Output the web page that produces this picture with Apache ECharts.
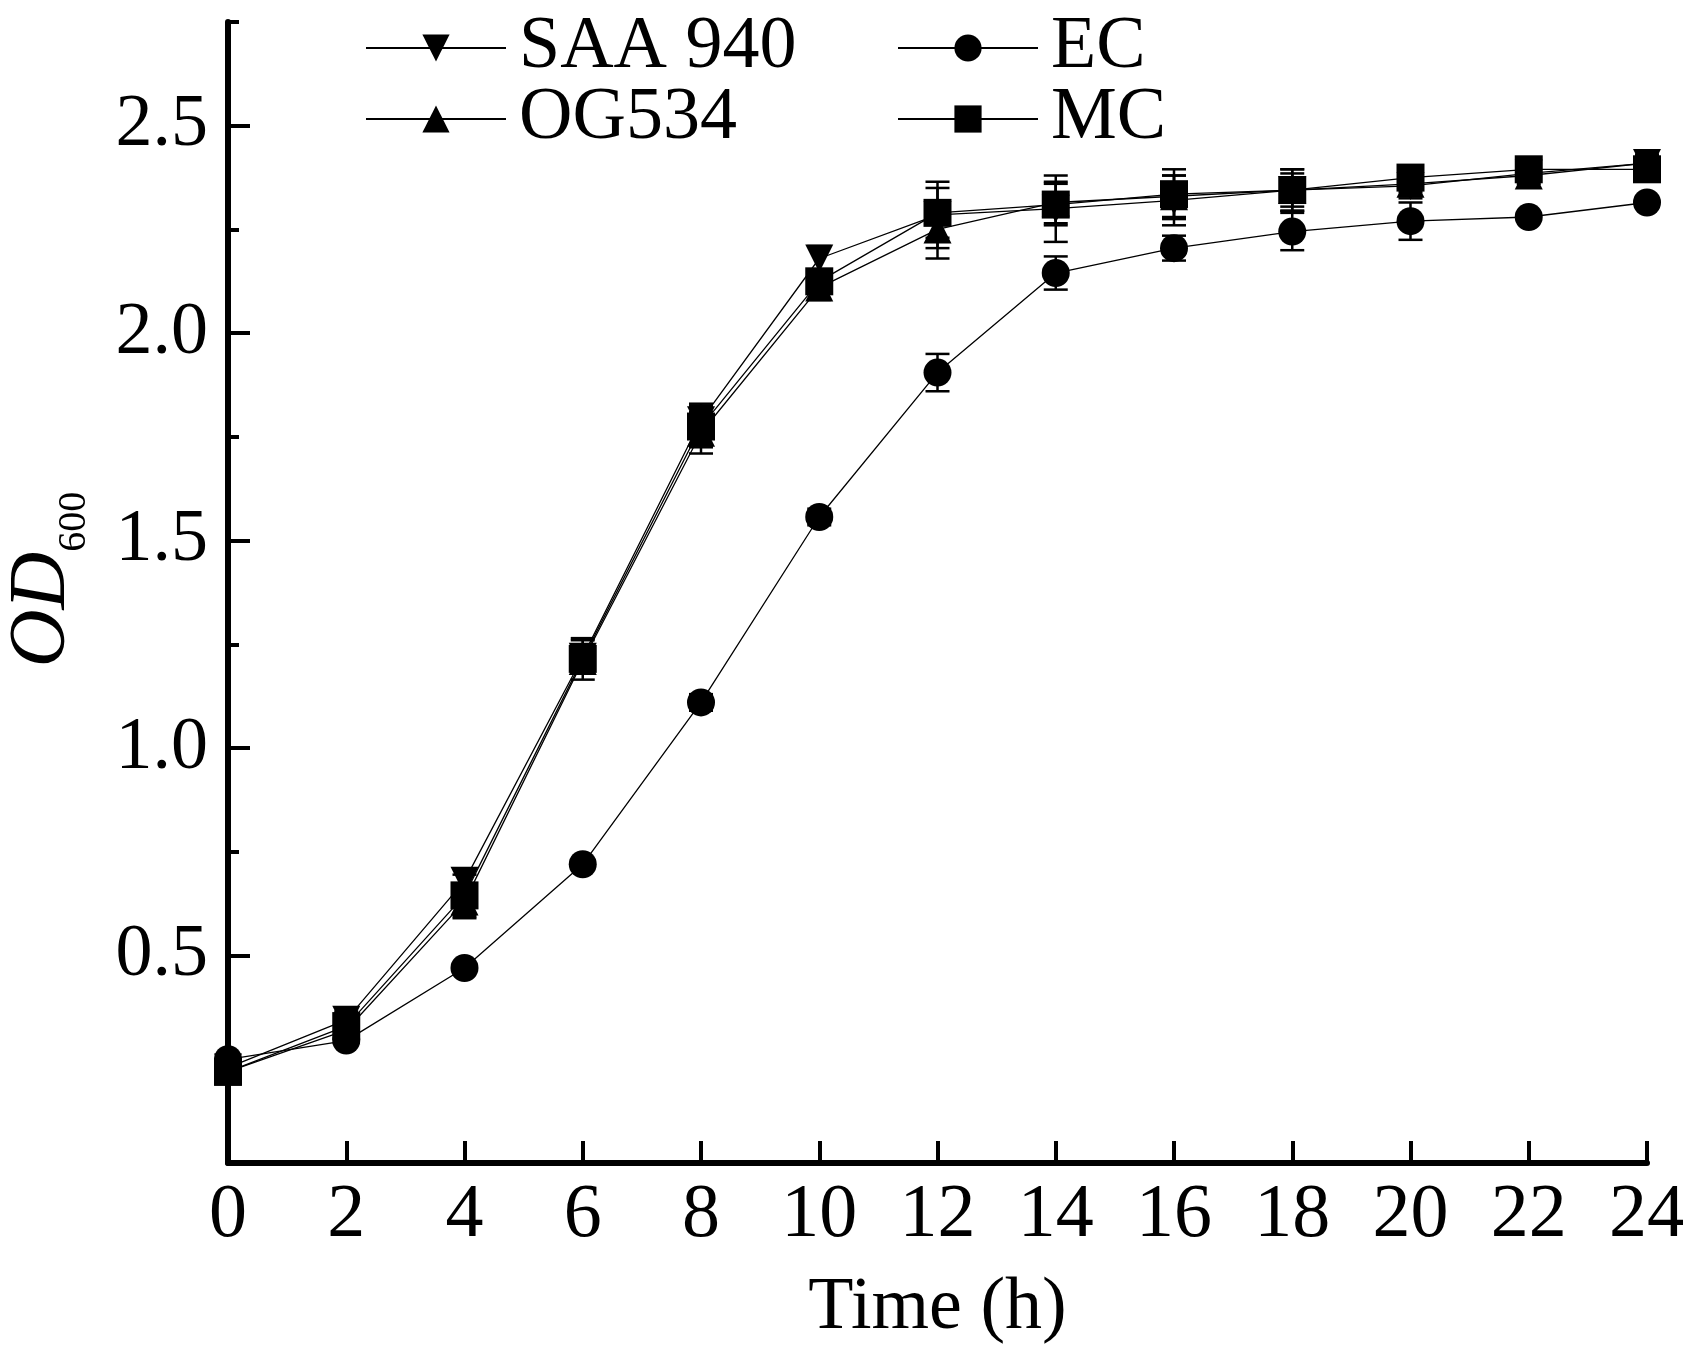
<!DOCTYPE html>
<html>
<head>
    <meta charset="utf-8">
    <title>OD600 growth curves</title>
    <script src="https://cdn.jsdelivr.net/npm/echarts@6/dist/echarts.min.js"></script>
</head>
<style>
    html, body { margin: 0; padding: 0; background: #fff; }
</style>
<body>
<div id="main" style="width: 1683px; height: 1355px;"></div>
<script>
// sampling times (h)
const hours = [0, 2, 4, 6, 8, 10, 12, 14, 16, 18, 20, 22, 24];

// OD600 means and error bars
const saa940    = [0.23, 0.345, 0.68, 1.22, 1.79, 2.18, 2.285, 2.30, 2.32, 2.345, 2.355, 2.385, 2.41];
const saa940Err = [0.02, 0.02, 0.03, 0.04, 0.04, 0.03, 0.08, 0.08, 0.06, 0.05, 0.03, 0.02, 0.02];
const og534     = [0.22, 0.32, 0.63, 1.21, 1.76, 2.11, 2.25, 2.315, 2.33, 2.345, 2.36, 2.38, 2.41];
const og534Err  = [0.02, 0.02, 0.04, 0.03, 0.05, 0.03, 0.07, 0.05, 0.05, 0.04, 0.02, 0.02, 0.02];
const ec        = [0.25, 0.295, 0.47, 0.72, 1.11, 1.557, 1.905, 2.145, 2.205, 2.245, 2.27, 2.28, 2.315];
const ecErr     = [0.01, 0.01, 0.01, 0.01, 0.02, 0.02, 0.045, 0.04, 0.03, 0.045, 0.045, 0.01, 0.01];
const mc        = [0.22, 0.33, 0.645, 1.215, 1.775, 2.125, 2.29, 2.31, 2.335, 2.345, 2.375, 2.395, 2.395];
const mcErr     = [0.02, 0.03, 0.05, 0.05, 0.05, 0.02, 0.06, 0.05, 0.06, 0.05, 0.02, 0.02, 0.02];

// labelled (long) y ticks; the short ones fall every 0.25
const yMajor = [0.5, 1.0, 1.5, 2.0, 2.5];

const FONT = 'Liberation Serif';
let myChart = echarts.init(document.getElementById('main'));

function lineSeries(name, values, symbol, rotate) {
    return {
        name: name,
        type: 'line',
        data: hours.map((h, i) => [h, values[i]]),
        symbol: symbol,
        symbolSize: 28,
        symbolRotate: rotate || 0,
        color: '#000',
        itemStyle: { color: '#000' },
        lineStyle: { color: '#000', width: 1.3 },
        z: 3
    };
}

function errSeries(values, errs) {
    return {
        type: 'custom',
        data: hours.map((h, i) => [h, values[i], errs[i]]),
        z: 2,
        renderItem: (params, api) => {
            const x = api.value(0), y = api.value(1), e = api.value(2);
            const top = api.coord([x, y + e]);
            const bot = api.coord([x, y - e]);
            const w = 12;
            const st = { stroke: '#000', lineWidth: 2.5 };
            return {
                type: 'group',
                children: [
                    { type: 'line', shape: { x1: top[0], y1: top[1], x2: bot[0], y2: bot[1] }, style: st },
                    { type: 'line', shape: { x1: top[0] - w, y1: top[1], x2: top[0] + w, y2: top[1] }, style: st },
                    { type: 'line', shape: { x1: bot[0] - w, y1: bot[1], x2: bot[0] + w, y2: bot[1] }, style: st }
                ]
            };
        }
    };
}

const legendText = { fontFamily: FONT, fontSize: 74, lineHeight: 64, color: '#000', padding: [0, 0, 0, 8] };

myChart.setOption({
    backgroundColor: '#fff',
    animation: false,
    legend: [
        {
            data: ['SAA 940', 'OG534'], orient: 'vertical', left: 360, top: 6,
            itemWidth: 140, itemHeight: 34, itemGap: -3, textStyle: legendText
        },
        {
            data: ['EC', 'MC'], orient: 'vertical', left: 892, top: 6,
            itemWidth: 140, itemHeight: 34, itemGap: -3, textStyle: legendText
        }
    ],
    grid: { left: 228, right: 36, top: 22, bottom: 192, containLabel: false, outerBoundsMode: 'none' },
    xAxis: {
        type: 'value', min: 0, max: 24, interval: 2,
        name: 'Time (h)', nameLocation: 'middle', nameGap: 109,
        nameTextStyle: { fontFamily: FONT, fontSize: 74, color: '#000' },
        axisLine: { lineStyle: { color: '#000', width: 6 } },
        axisTick: { inside: true, length: 22, lineStyle: { color: '#000', width: 4 } },
        axisLabel: { fontFamily: FONT, fontSize: 76, color: '#000', margin: 15 },
        splitLine: { show: false }
    },
    yAxis: [
        {
            type: 'value', min: 0, max: 2.75, interval: 0.25,
            name: '{od|OD}{sub|600}', nameLocation: 'middle', nameRotate: 90, nameGap: 134,
            nameTextStyle: {
                padding: [0, 0, 0, 26],
                rich: {
                    od: { fontFamily: FONT, fontStyle: 'italic', fontSize: 80, color: '#000' },
                    sub: { fontFamily: FONT, fontSize: 40, color: '#000', padding: [62, 0, 0, 0] }
                }
            },
            axisLine: { lineStyle: { color: '#000', width: 6 } },
            axisTick: { inside: true, length: 11, lineStyle: { color: '#000', width: 4 } },
            axisLabel: {
                fontFamily: FONT, fontSize: 74, color: '#000', margin: 20,
                formatter: v => yMajor.some(m => Math.abs(m - v) < 1e-6) ? v.toFixed(1) : ''
            },
            splitLine: { show: false }
        },
        {
            type: 'value', min: 0, max: 2.75, position: 'left', offset: 0,
            axisLine: { show: false },
            axisTick: { inside: true, length: 22, customValues: yMajor, lineStyle: { color: '#000', width: 4 } },
            axisLabel: { show: false, customValues: yMajor },
            splitLine: { show: false }
        }
    ],
    series: [
        errSeries(saa940, saa940Err),
        errSeries(ec, ecErr),
        errSeries(og534, og534Err),
        errSeries(mc, mcErr),
        lineSeries('SAA 940', saa940, 'triangle', 180),
        lineSeries('EC', ec, 'circle'),
        lineSeries('OG534', og534, 'triangle'),
        lineSeries('MC', mc, 'rect')
    ]
});
</script>
</body>
</html>
